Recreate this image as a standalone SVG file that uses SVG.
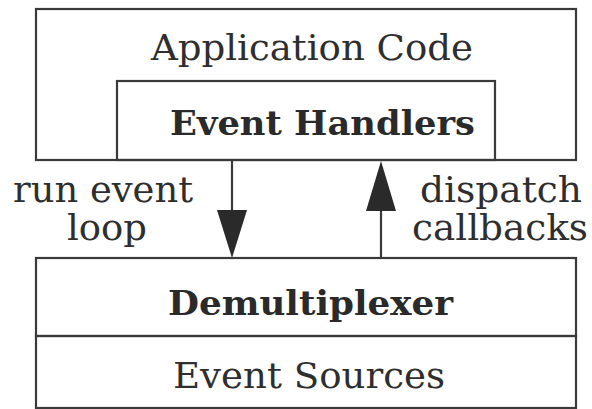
<svg xmlns="http://www.w3.org/2000/svg" width="592" height="409" viewBox="0 0 592 409">
<style>
.box{fill:none;stroke:#3a3a3a;stroke-width:2.2}
.t{font-family:"DejaVu Serif","Liberation Serif",serif;font-size:35px;fill:#2e2e2e}
.b{font-family:"DejaVu Serif","Liberation Serif",serif;font-size:34px;font-weight:bold;fill:#2a2a2a}
.ln{stroke:#3a3a3a;stroke-width:2.2;fill:none}
.hd{fill:#2a2a2a;stroke:none}
</style>
<rect width="592" height="409" fill="#ffffff"/>
<g id="application-code">
<rect class="box" x="36" y="9" width="540" height="151"/>
<text class="t" x="151" y="60" textLength="322" lengthAdjust="spacingAndGlyphs">Application Code</text>
</g>
<g id="event-handlers">
<rect class="box" x="117" y="81" width="378" height="79"/>
<text class="b" x="170" y="135" textLength="305" lengthAdjust="spacingAndGlyphs">Event Handlers</text>
</g>
<g id="demultiplexer">
<rect class="box" x="36" y="258" width="540" height="78"/>
<text class="b" x="168" y="315" textLength="285" lengthAdjust="spacingAndGlyphs">Demultiplexer</text>
</g>
<g id="event-sources">
<rect class="box" x="36" y="336" width="540" height="72"/>
<text class="t" x="173" y="388" textLength="272" lengthAdjust="spacingAndGlyphs">Event Sources</text>
</g>
<g id="connectors">
<line class="ln" x1="232" y1="161" x2="232" y2="212"/>
<polygon class="hd" points="217,210 247,210 232,258"/>
<line class="ln" x1="381" y1="258" x2="381" y2="209"/>
<polygon class="hd" points="366,211 396,211 381,161"/>
<text class="t" x="13" y="202" textLength="180" lengthAdjust="spacingAndGlyphs">run event</text>
<text class="t" x="67" y="240" textLength="80" lengthAdjust="spacingAndGlyphs">loop</text>
<text class="t" x="420" y="202" textLength="162" lengthAdjust="spacingAndGlyphs">dispatch</text>
<text class="t" x="412" y="240" textLength="176" lengthAdjust="spacingAndGlyphs">callbacks</text>
</g>
</svg>
